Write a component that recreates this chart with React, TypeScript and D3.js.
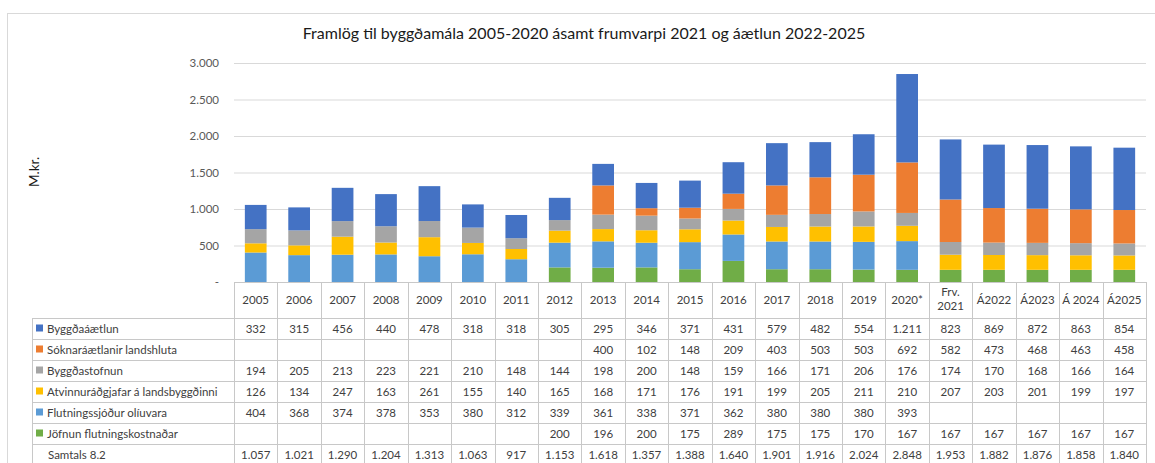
import React from "react";
import * as d3 from "d3";

const categories = ["2005","2006","2007","2008","2009","2010","2011","2012","2013","2014","2015","2016","2017","2018","2019","2020*","Frv. 2021","Á2022","Á2023","Á 2024","Á2025"];

const byggdaaaetlun = [332,315,456,440,478,318,318,305,295,346,371,431,579,482,554,1211,823,869,872,863,854];
const soknaraaetlanir = [null,null,null,null,null,null,null,null,400,102,148,209,403,503,503,692,582,473,468,463,458];
const byggdastofnun = [194,205,213,223,221,210,148,144,198,200,148,159,166,171,206,176,174,170,168,166,164];
const atvinnuradgjafar = [126,134,247,163,261,155,140,165,168,171,176,191,199,205,211,210,207,203,201,199,197];
const flutningssjodur = [404,368,374,378,353,380,312,339,361,338,371,362,380,380,380,393,null,null,null,null,null];
const jofnun = [null,null,null,null,null,null,null,200,196,200,175,289,175,175,170,167,167,167,167,167,167];
const samtals = [1057,1021,1290,1204,1313,1063,917,1153,1618,1357,1388,1640,1901,1916,2024,2848,1953,1882,1876,1858,1840];

const yTicks = [0,500,1000,1500,2000,2500,3000];

const title = "Framlög til byggðamála 2005-2020 ásamt frumvarpi 2021 og áætlun 2022-2025";
const yLabel = "M.kr.";
const totalLabel = "Samtals 8.2";

// table order (top to bottom)
const series = [
  { name: "Byggðaáætlun", values: byggdaaaetlun, color: "#4472C4" },
  { name: "Sóknaráætlanir landshluta", values: soknaraaetlanir, color: "#ED7D31" },
  { name: "Byggðastofnun", values: byggdastofnun, color: "#A5A5A5" },
  { name: "Atvinnuráðgjafar á landsbyggðinni", values: atvinnuradgjafar, color: "#FFC000" },
  { name: "Flutningssjóður olíuvara", values: flutningssjodur, color: "#5B9BD5" },
  { name: "Jöfnun flutningskostnaðar", values: jofnun, color: "#70AD47" },
];

const W = 1155, H = 463;
const plotL = 234, plotR = 1146, plotT = 63, plotB = 282;
const tableLabelL = 32;
const headerB = 318;
const rowH = 21;
const FONT = "Lato, 'Open Sans', sans-serif";

const loc = d3.formatLocale({ decimal: ",", thousands: ".", grouping: [3], currency: ["", ""] });
const fmt = loc.format(",d");

export default function App() {
  const x = d3.scaleBand<string>().domain(categories).range([plotL, plotR]).padding(0);
  const y = d3.scaleLinear().domain([0, 3000]).range([plotB, plotT]);
  const bw = x.bandwidth() * 0.5;

  const stackOrder = [...series].reverse(); // bottom to top
  const rows = categories.map((c, i) => {
    const o: any = { cat: c };
    stackOrder.forEach((s) => (o[s.name] = s.values[i] ?? 0));
    return o;
  });
  const stacked = d3.stack<any>().keys(stackOrder.map((s) => s.name))(rows);

  const tableRows = [...series.map((s) => ({ name: s.name, color: s.color, values: s.values })), { name: totalLabel, color: null as any, values: samtals as (number | null)[] }];
  const gridColor = "#D9D9D9";
  const tableLine = "#C8C8C8";
  const textColor = "#404040";

  return (
    <svg width={W} height={H} style={{ position: "absolute", left: 0, top: 0, background: "#fff" }} fontFamily={FONT}>
      <rect x={0} y={0} width={W} height={H} fill="#fff" />
      {/* chart border */}
      <rect x={7.5} y={13.5} width={W + 10} height={H + 10} fill="none" stroke="#D9D9D9" />
      <text x={584} y={39} textAnchor="middle" fontSize={16} fill="#1a1a1a">{title}</text>
      <text transform={`translate(39,${172}) rotate(-90)`} textAnchor="middle" fontSize={13.5} fill="#1a1a1a">{yLabel}</text>

      {/* grid + y labels */}
      {yTicks.map((t) => (
        <g key={t}>
          {t > 0 && <line x1={plotL} x2={plotR} y1={y(t) + 0.5} y2={y(t) + 0.5} stroke={gridColor} />}
          <text x={219} y={y(t) + 4} textAnchor="end" fontSize={11.5} fill="#595959">{t === 0 ? "-" : fmt(t)}</text>
        </g>
      ))}

      {/* bars */}
      {stacked.map((layer, li) => (
        <g key={layer.key} fill={stackOrder[li].color}>
          {layer.map((d, i) => {
            const h = y(d[0]) - y(d[1]);
            if (h <= 0) return null;
            return (
              <rect key={i} x={(x(categories[i]) as number) + (x.bandwidth() - bw) / 2} y={y(d[1])} width={bw} height={h} />
            );
          })}
        </g>
      ))}

      {/* table */}
      <g>
        <line x1={plotL} x2={plotR} y1={plotB + 0.5} y2={plotB + 0.5} stroke={tableLine} />
        {categories.map((c, i) => {
          const cx = (x(c) as number) + x.bandwidth() / 2;
          const parts = c === "Frv. 2021" ? ["Frv.", "2021"] : [c];
          return (
            <g key={c}>
              {parts.length === 1 ? (
                <text x={cx} y={304} textAnchor="middle" fontSize={11.5} fill={textColor}>{parts[0]}</text>
              ) : (
                <>
                  <text x={cx} y={296} textAnchor="middle" fontSize={11.5} fill={textColor}>{parts[0]}</text>
                  <text x={cx} y={310} textAnchor="middle" fontSize={11.5} fill={textColor}>{parts[1]}</text>
                </>
              )}
            </g>
          );
        })}
        {d3.range(categories.length + 1).map((k) => {
          const xx = Math.round(plotL + k * x.bandwidth()) + 0.5;
          return <line key={k} x1={xx} x2={xx} y1={plotB} y2={H + 10} stroke={tableLine} />;
        })}
        <line x1={tableLabelL + 0.5} x2={tableLabelL + 0.5} y1={headerB} y2={H + 10} stroke={tableLine} />
        {d3.range(tableRows.length + 1).map((r) => {
          const yy = headerB + r * rowH + 0.5;
          return <line key={r} x1={tableLabelL} x2={plotR} y1={yy} y2={yy} stroke={tableLine} />;
        })}
        {tableRows.map((row, r) => {
          const cy = headerB + r * rowH + rowH / 2;
          return (
            <g key={row.name}>
              {row.color && <rect x={36} y={cy - 4} width={7} height={7} fill={row.color} />}
              <text x={row.color ? 47 : 48} y={cy + 4} fontSize={11.5} fill={textColor}>{row.name}</text>
              {row.values.map((v, i) =>
                v == null ? null : (
                  <text key={i} x={(x(categories[i]) as number) + x.bandwidth() / 2} y={cy + 4} textAnchor="middle" fontSize={11.5} fill={textColor}>
                    {fmt(v)}
                  </text>
                )
              )}
            </g>
          );
        })}
      </g>
    </svg>
  );
}
